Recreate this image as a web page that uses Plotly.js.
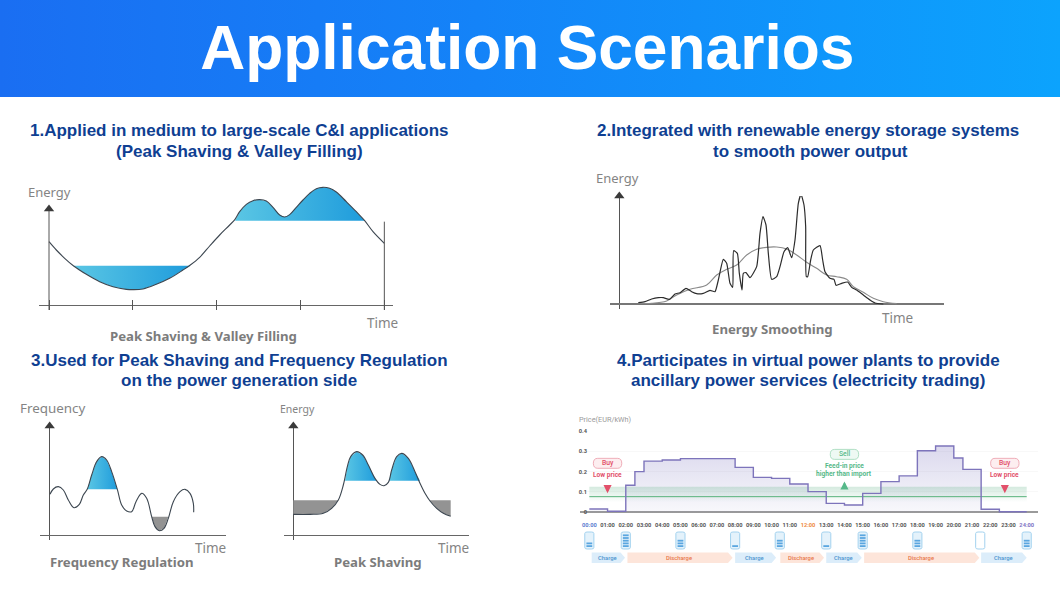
<!DOCTYPE html>
<html><head><meta charset="utf-8">
<script src="https://cdn.plot.ly/plotly-3.0.1.min.js"></script>
<style>
html,body{margin:0;padding:0;background:#fff;width:1060px;height:595px;overflow:hidden}
#banner{position:absolute;left:0;top:0;width:1060px;height:97px;background:linear-gradient(90deg,#1a6ef2 0%,#1483f8 45%,#0ca3fd 100%)}
#chart{position:absolute;left:0;top:0;width:1060px;height:595px}
</style></head><body>
<div id="banner"></div><div id="chart"></div>
<script>
// ---- Panel 1: Peak shaving & valley filling
const time1=[0,22,47,74,112,152,192,232,252,282,322,362,402,424,452,482,512,542,558,572,592,612,632,652,672,692,707,722,742,762,782,802,822,842,862,892,922,947,972,1006];
const energy1=[190,165,140,117,92,70,55,47,46,48,62,80,105,120,143,177,210,240,257,280,302,313,316,312,293,270,264,271,293,315,335,349,353,350,339,310,280,253,220,185];
const valleyTime=[74,112,152,192,232,252,282,322,362,402,424];
const valleyEnergy=[118,92,70,55,47,46,48,62,80,105,118];
const peakTime=[558,572,592,612,632,652,672,692,707,722,742,762,782,802,822,842,862,892,922,947];
const peakEnergy=[253,280,302,313,316,312,293,270,264,271,293,315,335,349,353,350,339,310,280,253];
const ticks1=[0,249,502,754,1006];
const rightEdgeTime=[1006,1006];
const rightEdgeEnergy=[-15,250];
const axisTime=[0,0];
const axisEnergy=[-15,288];
// ---- Panel 2: Energy smoothing
const rawTime=[57,77,97,117,132,150,167,182,200,217,232,252,272,287,297,312,322,332,340,343,354,360,368,372,380,392,412,422,431,440,447,457,472,482,494,505,517,527,537,545,554,559,561,565,574,582,602,610,617,632,644,650,667,685,697,712,732,752,767,792];
const rawEnergy=[4,7,15,19,19,14,30,34,47,37,31,32,41,37,72,134,122,62,50,160,152,92,42,92,94,79,112,212,262,237,152,74,82,112,157,169,139,192,302,329,297,232,82,82,132,162,175,132,97,77,74,56,62,66,50,42,27,12,3,0];
const smoothTime=[57,97,142,172,212,262,292,322,352,382,412,442,472,502,532,562,592,622,652,682,702,732,762,792,832];
const smoothEnergy=[2,2,9,27,44,57,87,104,117,147,164,170,171,165,147,125,107,87,82,74,52,35,17,7,1];
// ---- Panel 3: Frequency regulation
const time3=[1,11,26,41,56,73,89,101,113,126,141,156,171,186,203,216,231,246,259,276,291,306,316,329,343,356,371,391,406,421,431,432];
const freq3=[122,138,145,135,105,82,92,120,138,180,220,235,225,190,137,90,72,70,100,125,110,55,25,13,20,50,100,130,137,125,95,68];
const highTime=[113,126,141,156,171,186,203];
const highFreq=[137,180,220,235,225,190,137];
const lowTime=[306,316,329,343,356];
const lowFreq=[55,25,13,20,55];
// ---- Panel 4: Peak shaving
const time4=[0,50,90,115,135,150,162,172,190,208,225,245,260,272,285,295,310,325,345,365,380,395,410,430,450,472];
const energy4=[62,62,65,80,105,150,205,235,250,240,210,170,152,148,158,195,235,245,230,190,155,125,102,80,65,56];
const peakATime=[155,162,172,190,208,225,245,250];
const peakAEnergy=[163,205,235,250,240,210,170,163];
const peakBTime=[287,295,310,325,345,365,380];
const peakBEnergy=[163,195,235,245,230,190,163];
const troughATime=[0,135,115,90,50,0];
const troughAEnergy=[104,104,80,65,62,62];
const troughBTime=[410,472,472,450,430,410];
const troughBEnergy=[104,104,56,65,80,102];
// ---- Panel 5: price curve
const hourLabels=['00:00','01:00','02:00','03:00','04:00','05:00','06:00','07:00','08:00','09:00','10:00','11:00','12:00','13:00','14:00','15:00','16:00','17:00','18:00','19:00','20:00','21:00','22:00','23:00','24:00'];
const hourColors={0:'#5b7bd0',12:'#ee8a3c',24:'#7d72c4'};
const priceHours=[0,1,2,2.5,3,4,5,8,9,10,11,12,13,14,15,16,17,18,19,20,20.5,21.5,22.5,24];
const priceValues=[0.016,0.005,0.133,0.2,0.252,0.257,0.264,0.221,0.172,0.167,0.139,0.102,0.044,0.036,0.093,0.151,0.179,0.303,0.326,0.267,0.211,0.015,0.003,0.003];
const bandHours=[0,24,24,0];
const bandPrices=[0.126,0.126,0.05,0.05];
const feedInHours=[0,24];
const feedInPrice=[0.077,0.077];
const batteryHours=[0,2,5,8,10.45,13,15,18,21.45,24];
const batteryLevels=[0.45,1,0.6,0.2,0.5,0.2,1,0.65,0,0.5];
const phaseStart=[0.13,2.09,8,10.48,13,15.08,21.5];
const phaseEnd=[1.96,7.86,10.25,12.88,14.95,21.4,24];
const phaseNames=['Charge','Discharge','Charge','Discharge','Charge','Discharge','Charge'];

const W=1060,H=595;
const fx=p=>p/W, fy=p=>1-p/H;
const BLUES=[[0,'#5ac6e4'],[1,'#1f9cdc']];
const curve=(x,y,xa,ya,opt={})=>({x,y,xaxis:xa,yaxis:ya,mode:'lines',hoverinfo:'skip',showlegend:false,
  line:{color:opt.color||'#3c4650',width:opt.width||1.1,shape:'spline',smoothing:opt.smoothing===undefined?1:opt.smoothing}});
const straight=(x,y,xa,ya)=>({x,y,xaxis:xa,yaxis:ya,mode:'lines',line:{color:'#555',width:1},hoverinfo:'skip',showlegend:false});
const blue=(x,y,xa,ya)=>({x,y,xaxis:xa,yaxis:ya,mode:'none',fill:'toself',hoverinfo:'skip',showlegend:false,
  fillgradient:{type:'horizontal',colorscale:BLUES}});
const grey=(x,y,xa,ya)=>({x,y,xaxis:xa,yaxis:ya,mode:'none',fill:'toself',fillcolor:'#939393',hoverinfo:'skip',showlegend:false});
const arrow=(x,y,xa,ya)=>({x:[x],y:[y],xaxis:xa,yaxis:ya,mode:'markers',cliponaxis:false,hoverinfo:'skip',showlegend:false,
  marker:{symbol:'triangle-up',size:9,color:'#3a3a3a'}});

const data=[
  blue(valleyTime,valleyEnergy,'x','y'),blue(peakTime,peakEnergy,'x','y'),
  curve(time1,energy1,'x','y'),
  straight(rightEdgeTime,rightEdgeEnergy,'x','y'),
  straight(axisTime,axisEnergy,'x','y'),
  arrow(0,288,'x','y'),
  curve(smoothTime,smoothEnergy,'x2','y2',{color:'#8a8a8a',width:1.1}),
  curve(rawTime,rawEnergy,'x2','y2',{color:'#2c2c2c',width:1.2,smoothing:0.5}),
  arrow(0,324,'x2','y2'),
  blue(highTime,highFreq,'x3','y3'),grey(lowTime,lowFreq,'x3','y3'),
  curve(time3,freq3,'x3','y3'),
  arrow(0,327,'x3','y3'),
  blue(peakATime,peakAEnergy,'x4','y4'),blue(peakBTime,peakBEnergy,'x4','y4'),
  grey(troughATime,troughAEnergy,'x4','y4'),grey(troughBTime,troughBEnergy,'x4','y4'),
  curve(time4,energy4,'x4','y4'),
  arrow(0,327,'x4','y4'),
  {x:priceHours,y:priceValues,xaxis:'x5',yaxis:'y5',mode:'none',fill:'tozeroy',line:{shape:'hv'},hoverinfo:'skip',showlegend:false,
   fillgradient:{type:'vertical',colorscale:[[0,'rgba(122,114,190,0.05)'],[1,'rgba(122,114,190,0.27)']]}},
  {x:bandHours,y:bandPrices,xaxis:'x5',yaxis:'y5',mode:'none',fill:'toself',hoverinfo:'skip',showlegend:false,
   fillgradient:{type:'vertical',colorscale:[[0,'rgba(90,175,130,0)'],[1,'rgba(90,175,130,0.26)']]}},
  {x:feedInHours,y:feedInPrice,xaxis:'x5',yaxis:'y5',mode:'lines',line:{color:'#58b27c',width:1},hoverinfo:'skip',showlegend:false},
  {x:priceHours,y:priceValues,xaxis:'x5',yaxis:'y5',mode:'lines',line:{color:'#7d74bb',width:1.4,shape:'hv'},hoverinfo:'skip',showlegend:false}
];

const xbase=(l,r,range,extra={})=>Object.assign({domain:[fx(l),fx(r)],range,fixedrange:true,showgrid:false,showline:false,showticklabels:false,
  ticks:'',zeroline:true,zerolinecolor:'#555',zerolinewidth:1},extra);
const ybase=(top,bot,range,xa,extra={})=>Object.assign({domain:[fy(bot),fy(top)],range,fixedrange:true,showgrid:false,showline:false,showticklabels:false,
  ticks:'',zeroline:true,zerolinecolor:'#666',zerolinewidth:1,anchor:xa},extra);

const hourTickText=hourLabels.map((t,i)=>hourColors[i]?`<span style="color:${hourColors[i]}">${t}</span>`:t);

const layout={width:W,height:H,autosize:false,margin:{l:0,r:0,t:0,b:0,pad:0},paper_bgcolor:'rgba(0,0,0,0)',plot_bgcolor:'rgba(0,0,0,0)',showlegend:false,
  title:{text:'Application Scenarios',font:{family:'Liberation Sans',size:62.3,weight:700,color:'#fff'},x:0.4975,xanchor:'center',y:1-47/H,yanchor:'middle'},
  xaxis:xbase(39,393,[-30,1032],{anchor:'y',zeroline:false,tickmode:'array',tickvals:ticks1,ticks:'inside',ticklen:10,tickcolor:'#555',tickwidth:1}),
  yaxis:ybase(180,310,[-15,375],'x'),
  xaxis2:xbase(610,944,[-28,974],{anchor:'y2'}),
  yaxis2:ybase(196,309,[-15,324],'x2',{zerolinecolor:'#777',zerolinewidth:1.2}),
  xaxis3:xbase(40,226,[-29,529],{anchor:'y3'}),
  yaxis3:ybase(426,540,[-15,327],'x3'),
  xaxis4:xbase(284,469,[-28,527],{anchor:'y4'}),
  yaxis4:ybase(426,540,[-15,327],'x4'),
  xaxis5:{domain:[fx(580),fx(1038)],range:[-0.512,24.62],anchor:'y5',fixedrange:true,showgrid:false,zeroline:false,showline:false,
    tickmode:'array',tickvals:hourLabels.map((_,i)=>i),ticktext:hourTickText,ticks:'outside',ticklen:6,tickcolor:'rgba(0,0,0,0)',tickangle:0,
    tickfont:{family:'Roboto',size:5.7,weight:700,color:'#555'}},
  yaxis5:{domain:[fy(513),fy(431)],range:[-0.0034,0.4],anchor:'x5',fixedrange:true,showgrid:true,gridcolor:'#f8f8f8',zeroline:true,zerolinecolor:'#9a9a9a',zerolinewidth:2,showline:false,
    tickmode:'array',tickvals:[0,0.1,0.2,0.3,0.4],ticktext:['0','0.1','0.2','0.3','0.4'],ticks:'',ticklabelstandoff:-8,
    tickfont:{family:'Roboto',size:5.7,weight:700,color:'#555'}},
  shapes:[],annotations:[]
};

const add=(px,py,text,size,color,family,weight)=>layout.annotations.push({xref:'paper',yref:'paper',x:fx(px),y:fy(py),xanchor:'center',yanchor:'middle',showarrow:false,
  text,font:{size,color,family,weight:weight||400}});
const HEAD='#0f3f92',LS='Liberation Sans';
add(239,130,'1.Applied in medium to large-scale C&amp;I applications',17,HEAD,LS,700);
add(239,151,'(Peak Shaving &amp; Valley Filling)',17,HEAD,LS,700);
add(807.5,130,'2.Integrated with renewable energy storage systems',17,HEAD,LS,700);
add(810,151,'to smooth power output',17,HEAD,LS,700);
add(239,360,'3.Used for Peak Shaving and Frequency Regulation',17,HEAD,LS,700);
add(239,381,'on the power generation side',17,HEAD,LS,700);
add(808,360,'4.Participates in virtual power plants to provide',17,HEAD,LS,700);
add(808,381,'ancillary power services (electricity trading)',17,HEAD,LS,700);
const LAB='#848484',CAP='#7c7c7c',NS='Noto Sans';
add(49,192.5,'Energy',13,LAB,NS);add(382,323,'Time',13.5,LAB,NS);add(203,335.5,'Peak Shaving &amp; Valley Filling',13.2,CAP,NS,700);
add(617,178,'Energy',13,LAB,NS);add(897,318,'Time',13.5,LAB,NS);add(772,329,'Energy Smoothing',13.2,CAP,NS,700);
add(53,408,'Frequency',13.4,LAB,NS);add(210,548,'Time',13.5,LAB,NS);add(122,562,'Frequency Regulation',13.2,CAP,NS,700);
add(297,409,'Energy',10.5,LAB,NS);add(453,548,'Time',13.5,LAB,NS);add(378,562,'Peak Shaving',13.2,CAP,NS,700);
add(605.5,419,'Price(EUR/kWh)',7.3,'#9a9a9a','Roboto');

// price-chart callouts placed on the chart's own hour/price scales
const RED='#e2506a',GREEN='#56b98a';
const pill=(h,p,text,line,fill,col)=>{
  const hw=0.78,hh=0.0245,r=0.24;
  layout.shapes.push({type:'path',xref:'x5',yref:'y5',line:{color:line,width:0.8},fillcolor:fill,
    path:`M${h-hw+r},${p-hh} L${h+hw-r},${p-hh} Q${h+hw},${p-hh} ${h+hw},${p} Q${h+hw},${p+hh} ${h+hw-r},${p+hh} L${h-hw+r},${p+hh} Q${h-hw},${p+hh} ${h-hw},${p} Q${h-hw},${p-hh} ${h-hw+r},${p-hh} Z`});
  layout.annotations.push({xref:'x5',yref:'y5',x:h,y:p,showarrow:false,text,font:{family:'Roboto',size:6.8,weight:500,color:col}});
};
const note=(h,p,text,col)=>layout.annotations.push({xref:'x5',yref:'y5',x:h,y:p,showarrow:false,text,font:{family:'Roboto',size:6.6,weight:700,color:col}});
const mark=(h,p0,p1,col)=>layout.annotations.push({xref:'x5',yref:'y5',axref:'x5',ayref:'y5',x:h,y:p1,ax:h,ay:p0,text:'',showarrow:true,arrowhead:2,arrowsize:0.9,arrowwidth:1.8,arrowcolor:col});
pill(1,0.241,'Buy','#eb9aa8','#fdeef0',RED);note(1,0.182,'Low price',RED);mark(1,0.139,0.094,RED);
pill(22.8,0.241,'Buy','#eb9aa8','#fdeef0',RED);note(22.8,0.182,'Low price',RED);mark(22.8,0.139,0.094,RED);
pill(14,0.285,'Sell','#9ed8b8','#eef9f3',GREEN);note(14,0.228,'Feed-in price',GREEN);note(14,0.187,'higher than import',GREEN);mark(14,0.108,0.152,GREEN);

// batteries
const BT=532,BB=549;
batteryHours.forEach((h,i)=>{
  const hw=0.25,topY=fy(BT),botY=fy(BB),capY=fy(BT+1.5),lowY=fy(BB-1.5);
  layout.shapes.push({type:'path',xref:'x5',yref:'paper',fillcolor:batteryLevels[i]>0?'#e4f2fb':'#ffffff',line:{color:'#a3d2ef',width:1},
    path:`M${h-hw},${capY} Q${h-hw},${topY} ${h-0.12},${topY} L${h+0.12},${topY} Q${h+hw},${topY} ${h+hw},${capY} L${h+hw},${lowY} Q${h+hw},${botY} ${h+0.12},${botY} L${h-0.12},${botY} Q${h-hw},${botY} ${h-hw},${lowY} Z`});
  const bars=Math.round(batteryLevels[i]*5);
  for(let b=0;b<bars;b++){
    const y0=BB-2-b*2.7;
    layout.shapes.push({type:'rect',xref:'x5',yref:'paper',x0:h-0.16,x1:h+0.16,y0:fy(y0),y1:fy(y0-1.8),fillcolor:'#5aa6e0',line:{width:0}});
  }
});
// charge / discharge arrows
const PT=552.5,PB=563;
phaseNames.forEach((n,i)=>{
  const charge=n==='Charge',s=phaseStart[i],e=phaseEnd[i];
  layout.shapes.push({type:'path',xref:'x5',yref:'paper',fillcolor:charge?'#dcedfa':'#fde5da',line:{width:0},
    path:`M${s},${fy(PT)} L${e-0.25},${fy(PT)} L${e},${fy((PT+PB)/2)} L${e-0.25},${fy(PB)} L${s},${fy(PB)} Z`});
  layout.annotations.push({xref:'x5',yref:'paper',x:(s+e)/2-0.05,y:fy((PT+PB)/2),yanchor:'middle',showarrow:false,text:n,font:{family:'Roboto',size:5.8,weight:500,color:charge?'#4b93cf':'#e8764a'}});
});

Plotly.newPlot('chart',data,layout,{displayModeBar:false,staticPlot:true,responsive:false});
</script>
</body></html>
